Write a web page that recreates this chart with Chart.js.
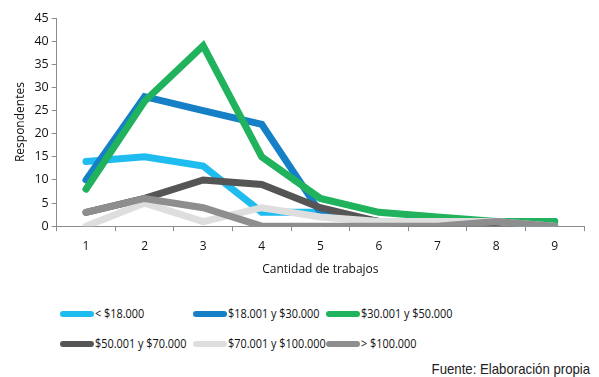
<!DOCTYPE html>
<html>
<head>
<meta charset="utf-8">
<script src="https://cdn.jsdelivr.net/npm/chart.js@4/dist/chart.umd.min.js"></script>
<style>
  body { margin: 0; background: #fff; font-family: "Open Sans", sans-serif; }
  #wrap { position: relative; width: 599px; height: 377px; }
  #plot { position: absolute; left: 0; top: 0; width: 599px; height: 281px; }
  .leyenda { position: absolute; display: flex; align-items: center; font-size: 12.5px; color: #111; white-space: nowrap; }
  .leyenda span.linea { display: inline-block; width: 34px; height: 6px; border-radius: 3px; margin-right: 1px; }
  .leyenda span.texto { display: inline-block; transform: scaleX(0.87); transform-origin: left center; }
  #fuente { position: absolute; right: 9px; top: 360px; font-family: "Liberation Sans", sans-serif; font-size: 15px; color: #222;
            transform: scaleX(0.88); transform-origin: right center; white-space: nowrap; }
</style>
</head>
<body>
<div id="wrap">
  <div id="plot"><canvas id="grafico"></canvas></div>
  <div id="legend"></div>
  <div id="fuente">Fuente: Elaboración propia</div>
</div>
<script>
// Cantidad de trabajos vs. respondentes, por tramo de ingreso
const categorias = ["1", "2", "3", "4", "5", "6", "7", "8", "9"]
const tramos = ["< $18.000", "$18.001 y $30.000", "$30.001 y $50.000", "$50.001 y $70.000", "$70.001 y $100.000", ">  $100.000"]
const menos18 = [14, 15, 13, 3, 3, 1, 1, 1, 0]
const entre18y30 = [10, 28, 25, 22, 3, 1, 1, 1, 1]
const entre30y50 = [8, 27, 39, 15, 6, 3, 2, 1, 1]
const entre50y70 = [3, 6, 10, 9, 4, 1, 0, 0, 0]
const entre70y100 = [0, 5, 1, 4, 2, 1, 1, 1, 0]
const mas100 = [3, 6, 4, 0, 0, 0, 0, 1, 0]
const colores = ["#1FBCF0", "#1580C6", "#21B25E", "#555555", "#DEDEDE", "#8E8E8E"]
const valoresY = [0, 5, 10, 15, 20, 25, 30, 35, 40, 45]

const series = [menos18, entre18y30, entre30y50, entre50y70, entre70y100, mas100]

const datasets = series.map((data, i) => ({
  label: tramos[i],
  data: data,
  borderColor: colores[i],
  backgroundColor: colores[i],
  borderWidth: 7,
  pointRadius: 0,
  tension: 0,
  borderCapStyle: "round",
  borderJoinStyle: "miter",
  // las series posteriores quedan encima, como en Excel
  order: series.length - i,
}))

const ejeColor = "#8c8c8c"

const ctx = document.getElementById("grafico").getContext("2d")
const chart = new Chart(ctx, {
  type: "line",
  data: { labels: categorias, datasets: datasets },
  options: {
    responsive: true,
    maintainAspectRatio: false,
    animation: false,
    layout: { padding: { top: 18, right: 15, left: 9, bottom: 0 } },
    plugins: {
      legend: { display: false },
      tooltip: { enabled: false },
    },
    scales: {
      x: {
        offset: true,
        grid: {
          offset: true,
          drawOnChartArea: false,
          drawTicks: true,
          tickLength: 5,
          color: ejeColor,
        },
        border: { color: ejeColor },
        ticks: { color: "#111", font: { size: 12, family: "Open Sans" }, padding: 8 },
        title: {
          display: true,
          text: "Cantidad de trabajos",
          color: "#111",
          font: { size: 12, family: "Open Sans" },
          padding: { top: 1 },
        },
      },
      y: {
        min: 0,
        max: 45,
        afterBuildTicks: (axis) => {
          axis.ticks = valoresY.map((v) => ({ value: v }))
        },
        grid: {
          drawOnChartArea: false,
          tickLength: 5,
          color: ejeColor,
        },
        border: { color: ejeColor },
        ticks: { color: "#111", font: { size: 12.5, family: "Open Sans" }, padding: 3 },
        title: {
          display: true,
          text: "Respondentes",
          color: "#111",
          font: { size: 12, family: "Open Sans" },
          padding: { bottom: 4 },
        },
      },
    },
  },
})

// Leyenda en dos filas de tres columnas
const legend = document.getElementById("legend")
const columnas = [60, 193, 326]
const filas = [305, 335]
chart.data.datasets.forEach((ds, i) => {
  const item = document.createElement("div")
  item.className = "leyenda"
  item.style.left = columnas[i % 3] + "px"
  item.style.top = filas[Math.floor(i / 3)] + "px"
  const linea = document.createElement("span")
  linea.className = "linea"
  linea.style.background = ds.borderColor
  const texto = document.createElement("span")
  texto.className = "texto"
  texto.textContent = ds.label
  item.appendChild(linea)
  item.appendChild(texto)
  legend.appendChild(item)
})
</script>
</body>
</html>
